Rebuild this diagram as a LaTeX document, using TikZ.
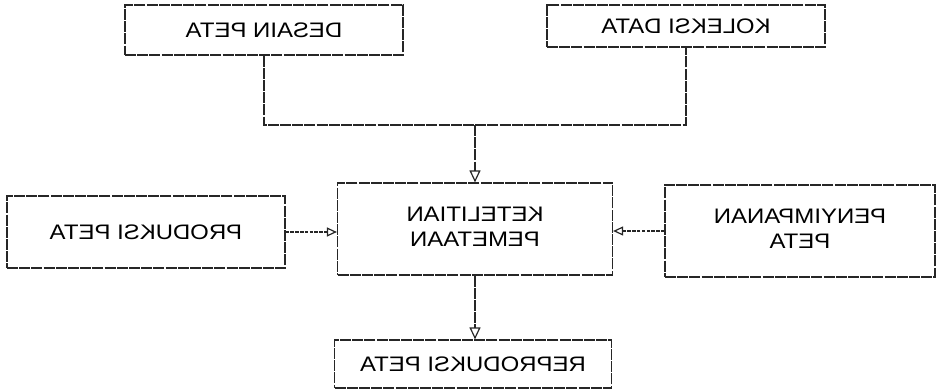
\documentclass[tikz,border=0pt]{standalone}
\usepackage{graphicx}
\usepackage{fontspec}
\setmainfont{Liberation Sans}
\usetikzlibrary{arrows.meta}
\newcommand{\mir}[1]{\scalebox{-1.14}[1]{#1}}
\begin{document}
\begin{tikzpicture}[x=1pt,y=-1pt,
  box/.style={draw=black!85, line width=1.2pt, dash pattern=on 11pt off 1.2pt,
    inner sep=0pt, align=center, font=\fontsize{21}{26}\selectfont},
  conn/.style={draw=black!85, line width=1.2pt, dash pattern=on 11pt off 1.2pt},
  arr/.style={conn, -{Triangle[open, length=12pt, width=11pt, line width=1.2pt]}},
  arrd/.style={draw=black!85, line width=1.1pt, dash pattern=on 3.5pt off 1.3pt,
    -{Triangle[open, length=10pt, width=9pt, line width=1.2pt]}}
]
\useasboundingbox (0,0) rectangle (938,390);
\node[box, minimum width=278pt, minimum height=50pt] (desain) at (264,30) {\mir{DESAIN PETA}};
\node[box, minimum width=278pt, minimum height=42pt] (kol) at (686,26) {\mir{KOLEKSI DATA}};
\node[box, minimum width=275pt, minimum height=92pt] (ket) at (475,229)
  {\mir{\begin{tabular}{@{}c@{}}KETELITIAN\\[-1pt]PEMETAAN\end{tabular}}};
\node[box, minimum width=278pt, minimum height=72pt] (prod) at (146,232) {\mir{PRODUKSI PETA}};
\node[box, minimum width=270pt, minimum height=92pt] (peny) at (800,231)
  {\mir{\begin{tabular}{@{}c@{}}PENYIMPANAN\\[-1pt]PETA\end{tabular}}};
\node[box, minimum width=277pt, minimum height=48pt] (repro) at (473,364) {\mir{REPRODUKSI PETA}};
\coordinate (j) at (ket.north |- 0,125);
\draw[conn] (desain.south) |- (j) -| (kol.south);
\draw[arr] (j) -- (ket.north);
\draw[arrd] (prod.east) -- (prod.east -| ket.west);
\draw[arrd] (peny.west) -- (peny.west -| ket.east);
\draw[arr] (ket.south) -- (ket.south |- repro.north);
\end{tikzpicture}
\end{document}
